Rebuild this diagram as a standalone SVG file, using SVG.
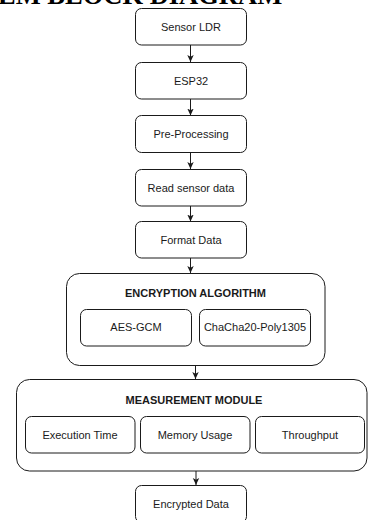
<svg xmlns="http://www.w3.org/2000/svg" width="368" height="520" viewBox="0 0 368 520">
  <style>
    .box { fill: #ffffff; stroke: #1a1a1a; stroke-width: 1; }
    .lbl { font-family: "Liberation Sans", Arial, sans-serif; font-size: 11px; fill: #1a1a1a; text-anchor: middle; }
    .hdr { font-family: "Liberation Sans", Arial, sans-serif; font-size: 11px; font-weight: bold; fill: #1a1a1a; text-anchor: middle; }
    .ttl { font-family: "Liberation Serif", "Times New Roman", serif; font-size: 26.5px; font-weight: bold; fill: #000; }
    .edge { stroke: #1a1a1a; stroke-width: 1; fill: none; marker-end: url(#arr); }
  </style>
  <defs>
    <marker id="arr" markerWidth="8" markerHeight="8" viewBox="0 0 8 8" refX="7" refY="4" orient="auto" markerUnits="userSpaceOnUse">
      <path d="M0,0.8 L7,4 L0,7.2 L1.8,4 Z" fill="#1a1a1a"/>
    </marker>
  </defs>

  <rect width="368" height="520" fill="#ffffff"/>

  <text class="ttl" x="-2" y="4">EM BLOCK DIAGRAM</text>

  <g id="connectors">
    <line class="edge" x1="190.5" y1="45" x2="190.5" y2="62"/>
    <line class="edge" x1="190.5" y1="99" x2="190.5" y2="115.5"/>
    <line class="edge" x1="190.5" y1="152.5" x2="190.5" y2="169"/>
    <line class="edge" x1="190.5" y1="206" x2="190.5" y2="221.5"/>
    <line class="edge" x1="190.5" y1="258" x2="190.5" y2="273"/>
    <line class="edge" x1="195.5" y1="365.5" x2="195.5" y2="379"/>
    <line class="edge" x1="196" y1="471" x2="196" y2="485"/>
  </g>

  <g id="sensor-ldr">
    <rect class="box" x="135.5" y="8.5" width="111" height="36.5" rx="6"/>
    <text class="lbl" x="191" y="30.5">Sensor LDR</text>
  </g>
  <g id="esp32">
    <rect class="box" x="135.5" y="62.5" width="111" height="36.5" rx="6"/>
    <text class="lbl" x="191" y="84.5">ESP32</text>
  </g>
  <g id="pre-processing">
    <rect class="box" x="135.5" y="115.5" width="111" height="37" rx="6"/>
    <text class="lbl" x="191" y="137.5">Pre-Processing</text>
  </g>
  <g id="read-sensor-data">
    <rect class="box" x="135.5" y="169.5" width="111" height="36.5" rx="6"/>
    <text class="lbl" x="191" y="191.5">Read sensor data</text>
  </g>
  <g id="format-data">
    <rect class="box" x="135.5" y="221.5" width="111" height="36.5" rx="6"/>
    <text class="lbl" x="191" y="243.5">Format Data</text>
  </g>

  <g id="encryption-algorithm">
    <rect class="box" x="66.5" y="273.5" width="258.5" height="92" rx="13"/>
    <text class="hdr" x="195.5" y="297">ENCRYPTION ALGORITHM</text>
    <g id="aes-gcm">
      <rect class="box" x="80.5" y="309.5" width="111" height="36.5" rx="6"/>
      <text class="lbl" x="136" y="331">AES-GCM</text>
    </g>
    <g id="chacha20-poly1305">
      <rect class="box" x="199.5" y="309.5" width="111" height="36.5" rx="6"/>
      <text class="lbl" x="255" y="331">ChaCha20-Poly1305</text>
    </g>
  </g>

  <g id="measurement-module">
    <rect class="box" x="16.5" y="379.5" width="350.5" height="91.5" rx="13"/>
    <text class="hdr" x="194" y="404">MEASUREMENT MODULE</text>
    <g id="execution-time">
      <rect class="box" x="25.5" y="416.5" width="109.5" height="36.5" rx="6"/>
      <text class="lbl" x="80" y="438.5">Execution Time</text>
    </g>
    <g id="memory-usage">
      <rect class="box" x="140.5" y="416.5" width="109.5" height="36.5" rx="6"/>
      <text class="lbl" x="195" y="438.5">Memory Usage</text>
    </g>
    <g id="throughput">
      <rect class="box" x="255.5" y="416.5" width="109" height="36.5" rx="6"/>
      <text class="lbl" x="310" y="438.5">Throughput</text>
    </g>
  </g>

  <g id="encrypted-data">
    <rect class="box" x="135.5" y="485.5" width="111" height="37" rx="6"/>
    <text class="lbl" x="191" y="507.5">Encrypted Data</text>
  </g>
</svg>
